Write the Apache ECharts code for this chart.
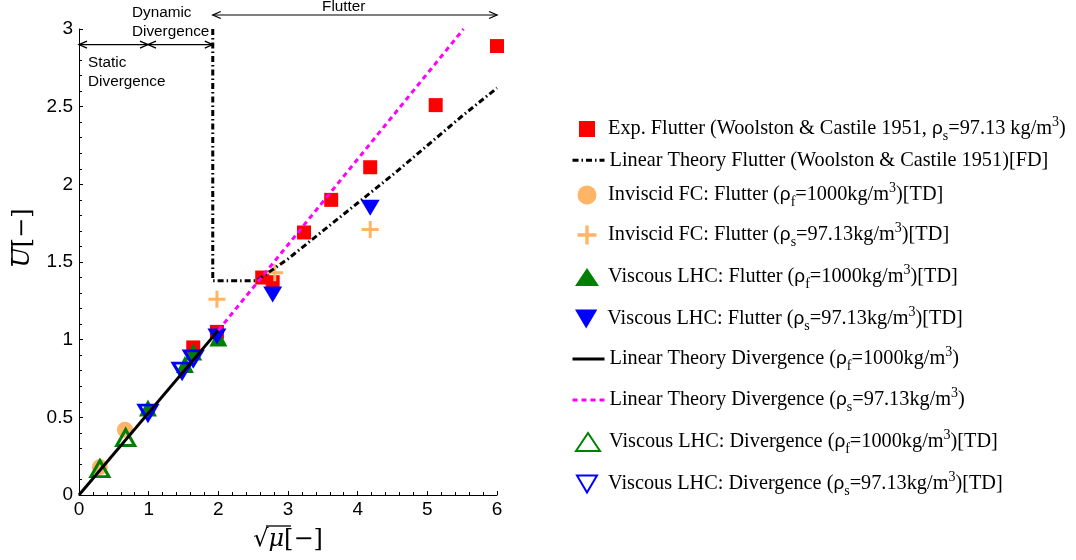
<!DOCTYPE html>
<html>
<head>
<meta charset="utf-8">
<script src="https://cdn.jsdelivr.net/npm/echarts@6/dist/echarts.min.js"></script>
<style>
html,body{margin:0;padding:0;background:#fff;}
#chart{width:1076px;height:560px;}
</style>
</head>
<body>
<div id="chart"></div>
<script>
// ---------- data ----------
const expFlutter = [[1.64,0.95],[1.98,1.05],[2.63,1.40],[2.78,1.37],[3.23,1.69],[3.62,1.90],[4.18,2.11],[5.12,2.51],[6.0,2.89]];
const linFlutter = [[1.92,3.0],[1.92,1.38],[2.55,1.38],[3.0,1.52],[3.5,1.70],[4.0,1.88],[4.5,2.06],[5.0,2.25],[5.5,2.44],[6.0,2.62]];
const invFlutterF = [[0.30,0.18],[0.66,0.42]];
const invFlutterS = [[1.98,1.26],[2.81,1.43],[4.18,1.71]];
const viscFlutterF = [[0.99,0.56],[1.52,0.84],[1.64,0.92],[2.0,1.01]];
const viscFlutterS = [[1.98,1.02],[2.78,1.29],[4.18,1.85]];
const linDivF = [[0,0],[2.0,1.06]];
const linDivS = [[2.0,1.06],[5.52,3.0]];
const viscDivF = [[0.30,0.17],[0.67,0.37]];
const viscDivS = [[0.99,0.53],[1.48,0.80],[1.64,0.88]];

const xTicks = [0,1,2,3,4,5,6];
const yTicks = [0,0.5,1,1.5,2,2.5,3];

const seriesNames = [
  'Exp. Flutter (Woolston & Castile 1951, ρs=97.13 kg/m3)',
  'Linear Theory Flutter (Woolston & Castile 1951)[FD]',
  'Inviscid FC: Flutter (ρf=1000kg/m3)[TD]',
  'Inviscid FC: Flutter (ρs=97.13kg/m3)[TD]',
  'Viscous LHC: Flutter (ρf=1000kg/m3)[TD]',
  'Viscous LHC: Flutter (ρs=97.13kg/m3)[TD]',
  'Linear Theory Divergence (ρf=1000kg/m3)',
  'Linear Theory Divergence (ρs=97.13kg/m3)',
  'Viscous LHC: Divergence (ρf=1000kg/m3)[TD]',
  'Viscous LHC: Divergence (ρs=97.13kg/m3)[TD]'
];
const legendRich = [
  '{t|Exp. Flutter (Woolston & Castile 1951, }{g|ρ}{sub|s}{t|=97.13 kg/m}{sup|3}{t|)}',
  '{t|Linear Theory Flutter (Woolston & Castile 1951)[FD]}',
  '{t|Inviscid FC: Flutter (}{g|ρ}{sub|f}{t|=1000kg/m}{sup|3}{t|)[TD]}',
  '{t|Inviscid FC: Flutter (}{g|ρ}{sub|s}{t|=97.13kg/m}{sup|3}{t|)[TD]}',
  '{t|Viscous LHC: Flutter (}{g|ρ}{sub|f}{t|=1000kg/m}{sup|3}{t|)[TD]}',
  '{t|Viscous LHC: Flutter (}{g|ρ}{sub|s}{t|=97.13kg/m}{sup|3}{t|)[TD]}',
  '{t|Linear Theory Divergence (}{g|ρ}{sub|f}{t|=1000kg/m}{sup|3}{t|)}',
  '{t|Linear Theory Divergence (}{g|ρ}{sub|s}{t|=97.13kg/m}{sup|3}{t|)}',
  '{t|Viscous LHC: Divergence (}{g|ρ}{sub|f}{t|=1000kg/m}{sup|3}{t|)[TD]}',
  '{t|Viscous LHC: Divergence (}{g|ρ}{sub|s}{t|=97.13kg/m}{sup|3}{t|)[TD]}'
];

// annotation geometry in data coordinates
const regionArrows = [[[0,2.9],[0.99,2.9]],[[0.99,2.9],[1.92,2.9]],[[1.92,3.09],[6,3.09]]];
const regionTexts = [
  {lines:['Flutter'], at:[3.80,3.09], align:'center', dy:-17},
  {lines:['Dynamic','Divergence'], at:[0.76,2.9], align:'left', dy:-41},
  {lines:['Static','Divergence'], at:[0.13,2.9], align:'left', dy:9}
];

// ---------- legend layout ----------
const legendRowCenters = [129,163,195,235,277,319,359,400,442,484];
const legendIconSizes = [[16,16],[32,4],[19,19],[19,19],[24,18],[24,19],[32,4],[32,4],[24,18],[22,17]];
const LEG_ICON_CX = 587, LEG_TEXT_X = 608, LEG_H = 28;

// ---------- chart ----------
const chart = echarts.init(document.getElementById('chart'), null, {renderer:'canvas'});
const ORANGE = '#FFB466';
const downTri = 'path://M0,0 L20,0 L10,17 Z';
const plusPath = 'path://M7,0 H10 V7 H17 V10 H10 V17 H7 V10 H0 V7 H7 Z';

const rich = {
  t:{fontFamily:'Liberation Serif', fontSize:20.3, lineHeight:LEG_H, color:'#000', verticalAlign:'middle'},
  g:{fontFamily:'Liberation Sans', fontSize:19, lineHeight:LEG_H, color:'#000', verticalAlign:'middle'},
  sub:{fontFamily:'Liberation Serif', fontSize:14, lineHeight:13, color:'#000', verticalAlign:'bottom'},
  sup:{fontFamily:'Liberation Serif', fontSize:14, lineHeight:13, color:'#000', verticalAlign:'top'}
};

const isLine = [false,true,false,false,false,false,true,true,false,false];
const legends = seriesNames.map((n,i)=>{
  const [w,h] = legendIconSizes[i];
  const left = LEG_ICON_CX - w/2;
  const lg = {
    data:[n],
    left:left,
    top:legendRowCenters[i]-LEG_H/2,
    padding:0,
    orient:'vertical',
    itemWidth:w,
    itemHeight:isLine[i]?LEG_H:h,
    itemGap:0,
    selectedMode:false,
    formatter:()=>legendRich[i],
    textStyle:{rich:rich, padding:[0,0,0,LEG_TEXT_X-(left+w+5)]}
  };
  if (isLine[i]) { lg.itemStyle = {opacity:0}; lg.lineStyle = {width:3}; }
  return lg;
});

function scatter(name, data, symbol, size, itemStyle){
  itemStyle.opacity = 1;
  return {name, type:'scatter', data, symbol, symbolSize:size, itemStyle, emphasis:{disabled:true}, z:3};
}
function line(name, data, lineStyle){
  return {name, type:'line', data, symbol:'none', showSymbol:false, lineStyle, itemStyle:{color:lineStyle.color}, emphasis:{disabled:true}, z:4};
}

const option = {
  animation:false,
  backgroundColor:'#fff',
  legend:legends,
  grid:{left:79, right:579, top:29, bottom:65, containLabel:false},
  xAxis:{
    type:'value', min:0, max:6, interval:1,
    axisLine:{show:true, onZero:false, lineStyle:{color:'#000', width:1}},
    axisTick:{show:true, inside:true, length:4, lineStyle:{color:'#000'}},
    minorTick:{show:true, splitNumber:5, length:3, lineStyle:{color:'#000'}},
    splitLine:{show:false},
    axisLabel:{color:'#000', fontFamily:'Liberation Sans', fontSize:19, margin:5,
      formatter:v=>xTicks.includes(v)?String(v):''}
  },
  yAxis:{
    type:'value', min:0, max:3, interval:0.5,
    axisLine:{show:true, onZero:false, lineStyle:{color:'#000', width:1}},
    axisTick:{show:true, inside:true, length:4, lineStyle:{color:'#000'}},
    minorTick:{show:true, splitNumber:5, length:3, lineStyle:{color:'#000'}},
    splitLine:{show:false},
    axisLabel:{color:'#000', fontFamily:'Liberation Sans', fontSize:19, margin:6,
      formatter:v=>yTicks.includes(v)?String(v):''}
  },
  series:[
    scatter(seriesNames[0], expFlutter, 'rect', 14, {color:'#FF0000'}),
    line(seriesNames[1], linFlutter, {color:'#000', width:3, type:[6,3,1.5,3]}),
    scatter(seriesNames[2], invFlutterF, 'circle', 16, {color:ORANGE}),
    scatter(seriesNames[3], invFlutterS, plusPath, 17, {color:ORANGE}),
    scatter(seriesNames[4], viscFlutterF, 'triangle', [18,17], {color:'#008000'}),
    scatter(seriesNames[5], viscFlutterS, downTri, [19,16], {color:'#0000FF'}),
    line(seriesNames[6], linDivF, {color:'#000', width:3, type:'solid'}),
    line(seriesNames[7], linDivS, {color:'#FF00FF', width:3, type:[5,4]}),
    scatter(seriesNames[8], viscDivF, 'triangle', [18,16], {color:'rgba(0,0,0,0)', borderColor:'#008000', borderWidth:3}),
    scatter(seriesNames[9], viscDivS, downTri, [18,15], {color:'rgba(0,0,0,0)', borderColor:'#0000FF', borderWidth:3})
  ]
};
chart.setOption(option);

// ---------- annotations (positions derived from the axes) ----------
function px(p){ return chart.convertToPixel({gridIndex:0}, p); }
const g = [];
function arrowHead(tip, dir){
  const L=8, W=3.5;
  return {type:'polyline', shape:{points:[[tip[0]-dir*L, tip[1]-W],[tip[0],tip[1]],[tip[0]-dir*L, tip[1]+W]]},
    style:{stroke:'#000', lineWidth:1.3, fill:null}, z:10};
}
regionArrows.forEach(a=>{
  const p1 = px(a[0]), p2 = px(a[1]);
  g.push({type:'line', shape:{x1:p1[0], y1:p1[1], x2:p2[0], y2:p2[1]}, style:{stroke:'#000', lineWidth:1.2}, z:10});
  g.push(arrowHead(p1,-1));
  g.push(arrowHead(p2, 1));
});
regionTexts.forEach(t=>{
  const p = px(t.at);
  g.push({type:'text', x:p[0], y:p[1]+t.dy, z:10,
    style:{text:t.lines.join('\n'), fill:'#000', font:'15.3px "Liberation Sans"', lineHeight:18.5,
      align:t.align, verticalAlign:'top'}});
});
// axis names
const nameRich = {r:{fontFamily:'DejaVu Serif', fontSize:24, fill:'#000'}, m:{fontFamily:'DejaVu Serif', fontStyle:'italic', fontSize:24, fill:'#000'}};
g.push({type:'text', x:288, y:540, z:10,
  style:{text:'{r|√}{m|μ}{r|[−]}', align:'center', verticalAlign:'middle', rich:nameRich}});
g.push({type:'line', shape:{x1:266, y1:526, x2:291, y2:526}, style:{stroke:'#000', lineWidth:1.3}, z:10});
g.push({type:'text', x:23, y:238, rotation:Math.PI/2, z:10,
  style:{text:'{m|U}{r|[−]}', align:'center', verticalAlign:'middle', rich:nameRich}});
g.push({type:'line', shape:{x1:12, y1:242, x2:12, y2:266}, style:{stroke:'#000', lineWidth:1.5}, z:10});
chart.setOption({graphic:g});
</script>
</body>
</html>
